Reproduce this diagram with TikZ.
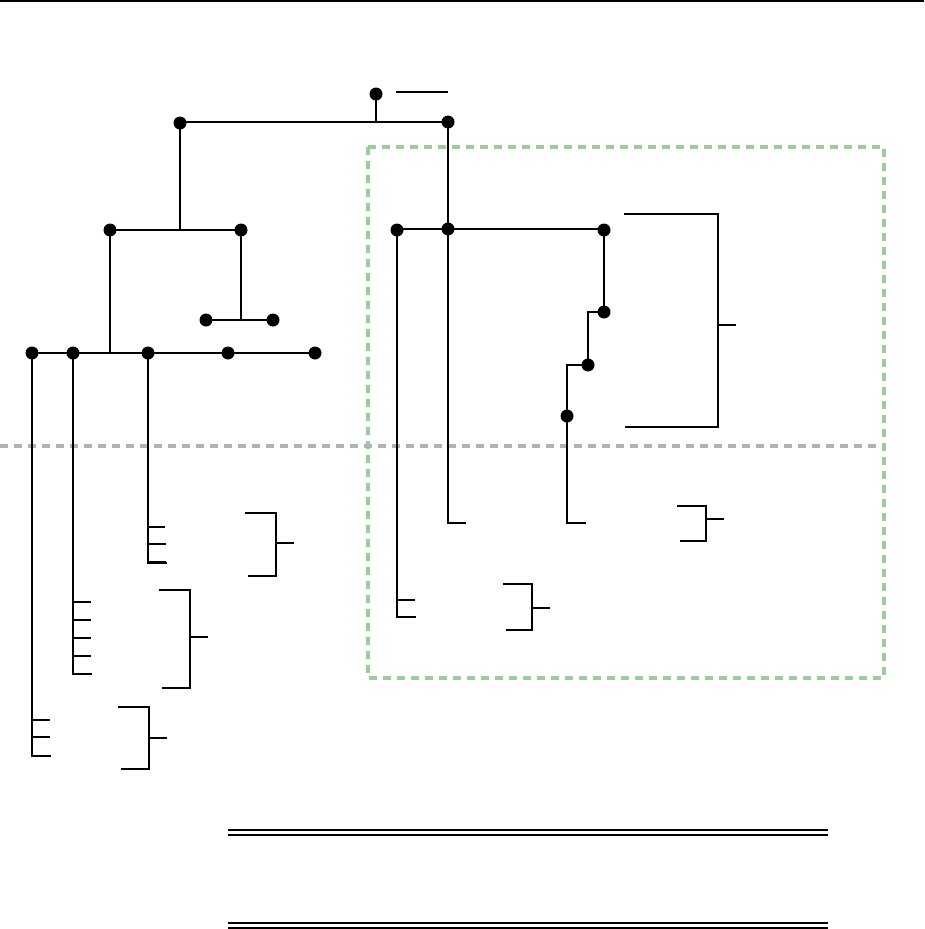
\documentclass[tikz,border=0pt]{standalone}
\begin{document}
\begin{tikzpicture}[x=1pt,y=-1pt,
  dot/.style={circle,fill=black,inner sep=0pt,minimum size=13pt},
  ln/.style={line width=1.6pt,line cap=rect},
  thk/.style={line width=2.6pt},
  tick/.style={line width=1.6pt},
  greenbox/.style={draw={rgb,255:red,155;green,205;blue,155},line width=3.8pt,dash pattern=on 8pt off 6pt},
  grayline/.style={draw={rgb,255:red,178;green,178;blue,178},line width=3.8pt,dash pattern=on 8pt off 6pt}]
\useasboundingbox (0,0) rectangle (924,929);
\draw[line width=1.6pt] (0,1) -- (924,1);
% region markers
\draw[greenbox] (368,147) rectangle (884,678);
\draw[grayline] (0,446) -- (880,446);
% nodes
\node[dot] (r) at (376,94) {};
\node[dot] (a) at (180,123) {};
\node[dot] (b) at (448,122) {};
\node[dot] (c) at (110,230) {};
\node[dot] (d) at (241,230) {};
\node[dot] (e) at (206,320) {};
\node[dot] (f) at (273,320) {};
\node[dot] (g1) at (32,353) {};
\node[dot] (g2) at (73,353) {};
\node[dot] (g3) at (148,353) {};
\node[dot] (g4) at (228,353) {};
\node[dot] (g5) at (315,353) {};
\node[dot] (h1) at (397,230) {};
\node[dot] (h2) at (448,229) {};
\node[dot] (h3) at (604,230) {};
\node[dot] (i1) at (604,312) {};
\node[dot] (i2) at (588,365) {};
\node[dot] (i3) at (567,416) {};
% root label line
\coordinate (rl1) at (397,92);
\coordinate (rl2) at (447,92);
\draw[ln] (rl1) -- (rl2);
% tree connectors
\draw[thk] (r.center) -- (r.center |- b.center);
\draw[ln] (a.center |- b.center) -- (b.center);
\draw[thk] (a.center) -- (a.center |- c.center);
\draw[ln] (c.center) -- (d.center);
\draw[thk] (d.center) -- (d.center |- e.center);
\draw[ln] (e.center) -- (f.center);
\draw[ln] (c.center) -- (c.center |- g1.center);
\draw[ln] (g1.center) -- (g5.center);
\draw[ln] (b.center) -- (h2.center);
\draw[ln] (h1.center |- h2.center) -- (h3.center |- h2.center);
\draw[thk] (h3.center) -- (i1.center);
\draw[ln] (i1.center) -- (i2.center |- i1.center) -- (i2.center);
\draw[ln] (i2.center) -- (i3.center |- i2.center) -- (i3.center);
% leaf columns (left)
\coordinate (g1e) at (50,756);
\draw[ln] (g1.center) -- (g1.center |- g1e) -- (g1e);
\draw[thk] (32,720) -- (50,720);
\draw[tick] (32,737) -- (50,737);
\coordinate (g2e) at (91,674);
\draw[ln] (g2.center) -- (g2.center |- g2e) -- (g2e);
\foreach \yy in {602,620,638,656} \draw[thk] (73,\yy) -- (91,\yy);
\coordinate (g3e) at (166,563);
\draw[ln] (g3.center) -- (g3.center |- g3e) -- (g3e);
\draw[thk] (148,527) -- (165,527);
\draw[tick] (148,544) -- (166,544);
\draw[thk] (148,562) -- (166,562);
% leaf columns (right)
\coordinate (h1e) at (415,617);
\draw[ln] (h1.center) -- (h1.center |- h1e) -- (h1e);
\draw[tick] (397,600) -- (415,600);
\coordinate (h2e) at (465,523);
\draw[ln] (h2.center) -- (h2.center |- h2e) -- (h2e);
\coordinate (i3e) at (585,523);
\draw[ln] (i3.center) -- (i3.center |- i3e) -- (i3e);
% brackets
\draw[ln] (119,707) -- (149,707) -- (149,769) -- (122,769);
\draw[ln] (149,738) -- (166,738);
\draw[ln] (160,590) -- (190,590) -- (190,688) -- (163,688);
\draw[ln] (190,637) -- (207,637);
\draw[ln] (246,513) -- (276,513) -- (276,576) -- (249,576);
\draw[ln] (276,543) -- (293,543);
\draw[ln] (504,584) -- (532,584) -- (532,630) -- (507,630);
\draw[ln] (532,608) -- (549,608);
\draw[ln] (625,214) -- (718,214) -- (718,427) -- (626,427);
\draw[ln] (718,325) -- (735,325);
\draw[ln] (678,506) -- (706,506) -- (706,541) -- (681,541);
\draw[ln] (706,519) -- (723,519);
% table rules
\draw[line width=1.5pt] (228,830) -- (828,830);
\draw[line width=1.5pt] (228,835) -- (828,835);
\draw[line width=1.5pt] (228,923) -- (828,923);
\draw[line width=1.5pt] (228,928) -- (828,928);
\end{tikzpicture}
\end{document}
